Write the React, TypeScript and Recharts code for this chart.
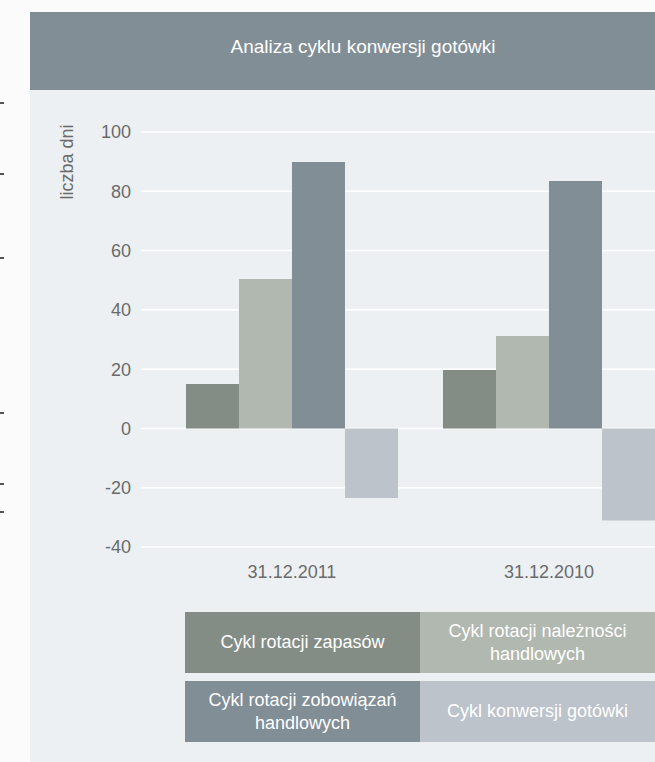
import React from 'react';
import { BarChart, Bar, XAxis, YAxis, CartesianGrid, Legend, Label } from 'recharts';

const categories = ['31.12.2011', '31.12.2010'];
const cyklZapasow = [15.0, 19.7];
const cyklNaleznosci = [50.4, 31.2];
const cyklZobowiazan = [89.9, 83.5];
const cyklKonwersji = [-23.5, -31.1];
const yTicks = [-40, -20, 0, 20, 40, 60, 80, 100];

const seriesNames = [
  'Cykl rotacji zapasów',
  'Cykl rotacji należności handlowych',
  'Cykl rotacji zobowiązań handlowych',
  'Cykl konwersji gotówki',
];
const seriesColors = ['#848c86', '#b1b8af', '#818e96', '#bcc3ca'];

const data = categories.map((c, i) => ({
  name: c,
  zapasy: cyklZapasow[i],
  naleznosci: cyklNaleznosci[i],
  zobowiazania: cyklZobowiazan[i],
  konwersja: cyklKonwersji[i],
}));

const FONT = '"Liberation Sans", Arial, Helvetica, sans-serif';

const YLabel = (props: any) => {
  const vb = props.viewBox || { x: 0, y: 42 };
  const x = vb.x + 37;
  const y = vb.y + 30;
  return (
    <text
      x={x}
      y={y}
      transform={`rotate(-90, ${x}, ${y})`}
      textAnchor="middle"
      dominantBaseline="central"
      fill="#6b6b6b"
      fontSize={18}
      fontFamily={FONT}
    >
      liczba dni
    </text>
  );
};

const LegendGrid = () => {
  return (
    <div
      style={{
        display: 'grid',
        gridTemplateColumns: '235px 235px',
        gridAutoRows: '61px',
        rowGap: '8px',
        fontFamily: FONT,
      }}
    >
      {seriesNames.map((name, i) => (
        <div
          key={name}
          style={{
            background: seriesColors[i],
            color: '#ffffff',
            fontSize: 18,
            lineHeight: '23px',
            display: 'flex',
            alignItems: 'center',
            justifyContent: 'center',
            textAlign: 'center',
            padding: '0 20px',
            boxSizing: 'border-box',
          }}
        >
          {name}
        </div>
      ))}
    </div>
  );
};

const dashYs = [103, 174, 258, 413, 484, 512];

export default function App() {
  return (
    <div
      style={{
        position: 'absolute',
        left: 0,
        top: 0,
        width: 655,
        height: 762,
        overflow: 'hidden',
        background: '#fbfbfb',
        fontFamily: FONT,
      }}
    >
      {dashYs.map((y) => (
        <div
          key={y}
          style={{ position: 'absolute', left: 0, top: y - 1, width: 4, height: 1.5, background: '#555' }}
        />
      ))}
      <div
        style={{
          position: 'absolute',
          left: 30,
          top: 12,
          width: 680,
          height: 760,
          background: '#ecf0f3',
        }}
      />
      <div
        style={{
          position: 'absolute',
          left: 30,
          top: 12,
          width: 680,
          height: 78,
          background: '#818e96',
        }}
      />
      <div
        style={{
          position: 'absolute',
          left: 30,
          top: 12,
          width: 666,
          height: 78,
          lineHeight: '70px',
          textAlign: 'center',
          color: '#ffffff',
          fontSize: 19,
        }}
      >
        Analiza cyklu konwersji gotówki
      </div>
      <div style={{ position: 'absolute', left: 30, top: 90 }}>
        <BarChart
          width={670}
          height={672}
          data={data}
          margin={{ top: 42, right: 0, bottom: 185, left: 0 }}
          barCategoryGap="8.75%"
          barGap={0}
        >
          <CartesianGrid vertical={false} stroke="#ffffff" strokeWidth={1.5} />
          <XAxis
            dataKey="name"
            axisLine={false}
            tickLine={false}
            tickMargin={12}
            padding={{ left: 22.5, right: 22.5 }}
            tick={{ fill: '#6b6b6b', fontSize: 18, fontFamily: FONT }}
            height={30}
          />
          <YAxis
            domain={[-40, 100]}
            ticks={yTicks}
            axisLine={false}
            tickLine={false}
            tickMargin={4}
            width={111}
            tick={{ fill: '#6b6b6b', fontSize: 18, fontFamily: FONT }}
          >
            <Label content={YLabel} />
          </YAxis>
          <Legend
            layout="horizontal"
            verticalAlign="middle"
            align="center"
            content={LegendGrid}
            wrapperStyle={{ left: 155, top: 522, width: 470 }}
          />
          <Bar dataKey="zapasy" name={seriesNames[0]} fill={seriesColors[0]} isAnimationActive={false} />
          <Bar dataKey="naleznosci" name={seriesNames[1]} fill={seriesColors[1]} isAnimationActive={false} />
          <Bar dataKey="zobowiazania" name={seriesNames[2]} fill={seriesColors[2]} isAnimationActive={false} />
          <Bar dataKey="konwersja" name={seriesNames[3]} fill={seriesColors[3]} isAnimationActive={false} />
        </BarChart>
      </div>
    </div>
  );
}
